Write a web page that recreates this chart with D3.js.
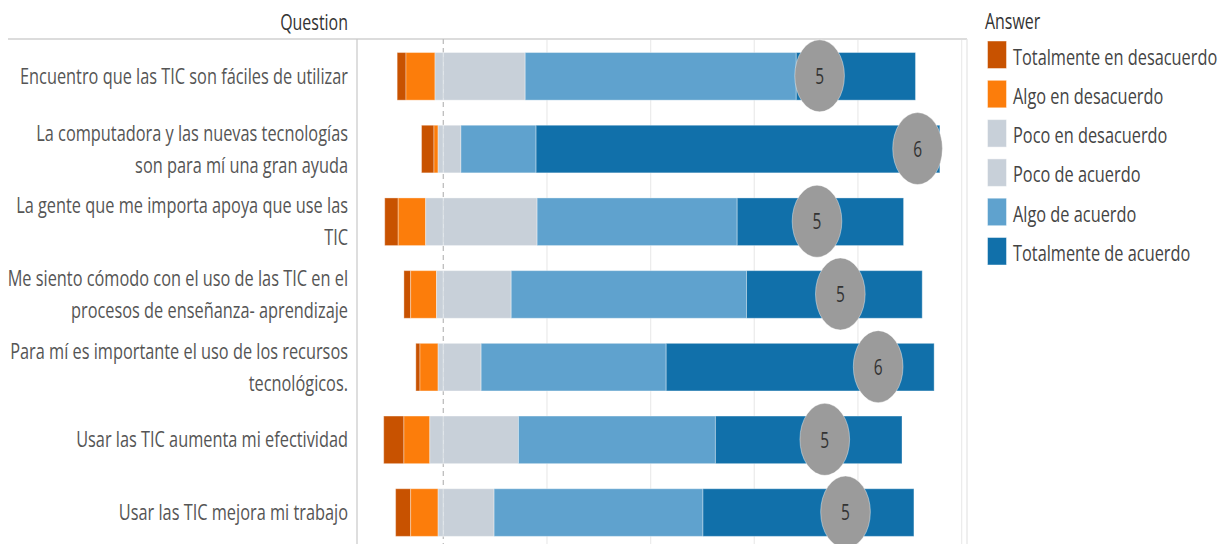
<!DOCTYPE html>
<html><head><meta charset="utf-8">
<script src="https://cdn.jsdelivr.net/npm/d3@7"></script>
<style>
body{margin:0;background:#fff;}
svg{display:block;font-family:'Open Sans',Lato,sans-serif;}
</style>
</head><body><div id="chart"></div>
<script>
// ---------- data ----------
const questions = [
  "Encuentro que las TIC son fáciles de utilizar",
  "La computadora y las nuevas tecnologías\nson para mí una gran ayuda",
  "La gente que me importa apoya que use las\nTIC",
  "Me siento cómodo con el uso de las TIC en el\nprocesos de enseñanza- aprendizaje",
  "Para mí es importante el uso de los recursos\ntecnológicos.",
  "Usar las TIC aumenta mi efectividad",
  "Usar las TIC mejora mi trabajo"
];
const answers = ["Totalmente en desacuerdo","Algo en desacuerdo","Poco en desacuerdo","Poco  de acuerdo","Algo de acuerdo","Totalmente de acuerdo"];
const answerColors = ["#c85200","#fc7d0b","#c8d0d9","#c8d0d9","#5fa2ce","#1170aa"];
// percentages per answer, one value per question
const totalmenteDesacuerdo = [1.7, 2.4, 2.6, 1.3, 0.8, 3.9, 2.9];
const algoDesacuerdo       = [5.6, 0.8, 5.3, 5.0, 3.5, 5.0, 5.3];
const pocoDesacuerdo       = [1.6, 1.0, 3.4, 1.3, 1.0, 2.6, 1.0];
const pocoAcuerdo          = [15.8, 3.4, 18.1, 13.1, 7.3, 14.5, 9.8];
const algoAcuerdo          = [52.3, 14.5, 38.6, 45.4, 35.7, 38.0, 40.3];
const totalmenteAcuerdo    = [23.0, 77.9, 32.1, 33.9, 51.7, 36.0, 40.7];
const negativeCount = 3; // first three answers go left of zero
// median answer marker (label and position on the % axis)
const medianLabel = [5, 6, 5, 5, 6, 5, 5];
const medianPos   = [72.6, 91.5, 72.1, 76.6, 83.9, 73.6, 77.6];
const gridTicks = [0, 20, 40, 60, 80, 100];
const axisDomain = [-16.65, 101.04];

const series = [totalmenteDesacuerdo, algoDesacuerdo, pocoDesacuerdo, pocoAcuerdo, algoAcuerdo, totalmenteAcuerdo];

// ---------- layout ----------
const W = 1225, H = 544;
const K = 0.69;   // horizontal squeeze of the original picture
const TK = 0.76;  // squeeze used for text
const paneLeft = 357, paneRight = 967, paneTop = 39;
const rowStep = 72.7;

const svg = d3.select("#chart").append("svg").attr("width", W).attr("height", H);

const x = d3.scaleLinear().domain(axisDomain).range([paneLeft, paneRight]);
const y = d3.scaleBand().domain(questions)
  .range([paneTop + 1, paneTop + 1 + rowStep * questions.length])
  .paddingInner(0.345).paddingOuter(0.1725);

function sText(sel, tx, ty, k){
  return sel.attr("transform", `translate(${tx},${ty}) scale(${k || TK},1)`);
}

// grid
svg.append("g").selectAll("line").data(gridTicks.filter(d => d !== 0)).join("line")
  .attr("x1", d => x(d)).attr("x2", d => x(d))
  .attr("y1", paneTop).attr("y2", H)
  .attr("stroke", "#ececec").attr("stroke-width", 1.3);

// pane borders
svg.append("line").attr("x1", 8).attr("x2", paneRight).attr("y1", paneTop).attr("y2", paneTop)
  .attr("stroke", "#dcdcdc").attr("stroke-width", 2);
svg.append("line").attr("x1", paneLeft).attr("x2", paneLeft).attr("y1", paneTop).attr("y2", H)
  .attr("stroke", "#c8c8c8").attr("stroke-width", 1.2);
svg.append("line").attr("x1", paneRight).attr("x2", paneRight).attr("y1", paneTop).attr("y2", H)
  .attr("stroke", "#e4e4e4").attr("stroke-width", 1.2);

// zero line
svg.append("line").attr("x1", x(0)).attr("x2", x(0)).attr("y1", paneTop).attr("y2", H)
  .attr("stroke", "#bdbdbd").attr("stroke-width", 1.3).attr("stroke-dasharray", "5,4");

// stacked bars
const rows = questions.map((q, i) => {
  let start = -d3.sum(series.slice(0, negativeCount), s => s[i]);
  return series.map((s, j) => {
    const seg = {q, j, x0: start, x1: start + s[i]};
    start += s[i];
    return seg;
  });
}).flat();

svg.append("g").selectAll("rect").data(rows).join("rect")
  .attr("x", d => x(d.x0)).attr("width", d => x(d.x1) - x(d.x0))
  .attr("y", d => y(d.q)).attr("height", y.bandwidth())
  .attr("fill", d => answerColors[d.j])
  .attr("stroke", "rgba(255,255,255,0.35)").attr("stroke-width", 1);

// median markers
const mk = svg.append("g").selectAll("g").data(questions).join("g");
mk.append("ellipse")
  .attr("cx", (d, i) => x(medianPos[i])).attr("cy", d => y(d) + y.bandwidth() / 2 - 0.5)
  .attr("rx", 36 * K).attr("ry", 36)
  .attr("fill", "#9b9b9b").attr("stroke", "rgba(255,255,255,0.4)").attr("stroke-width", 1);
mk.append("text").each(function(d, i){
    sText(d3.select(this), x(medianPos[i]), y(d) + y.bandwidth() / 2, 0.72);
  })
  .attr("text-anchor", "middle").attr("dy", "0.36em")
  .attr("font-size", 21.5).attr("fill", "#333")
  .text((d, i) => medianLabel[i]);

// question labels
svg.append("g").selectAll("text").data(questions).join("text")
  .attr("text-anchor", "end").attr("font-size", 21.5).attr("fill", "#555")
  .each(function(d){
    const lines = d.split("\n");
    const cy = y(d) + y.bandwidth() / 2;
    sText(d3.select(this), 348, cy);
    d3.select(this).selectAll("tspan").data(lines).join("tspan")
      .attr("x", 0)
      .attr("y", (l, k) => (k - (lines.length - 1) / 2) * 32)
      .attr("dy", "0.35em")
      .text(l => l);
  });

// header
sText(svg.append("text"), 348, 22.5).attr("text-anchor", "end").attr("dy", "0.35em")
  .attr("font-size", 21).attr("font-weight", 500).attr("fill", "#333").text("Question");

// legend
sText(svg.append("text"), 985, 21.5).attr("dy", "0.35em")
  .attr("font-size", 21).attr("font-weight", 500).attr("fill", "#333").text("Answer");
const lg = svg.append("g").selectAll("g").data(answers).join("g");
lg.append("rect")
  .attr("x", 987.5).attr("y", (d, i) => 41 + i * 39.3)
  .attr("width", 19).attr("height", 27.5)
  .attr("fill", (d, i) => answerColors[i])
  .attr("stroke", "rgba(255,255,255,0.45)").attr("stroke-width", 1);
lg.append("text").each(function(d, i){
    sText(d3.select(this), 1013, 41 + i * 39.3 + 16);
  })
  .attr("dy", "0.35em").attr("font-size", 21.5).attr("fill", "#444")
  .text(d => d);
</script>
</body></html>
